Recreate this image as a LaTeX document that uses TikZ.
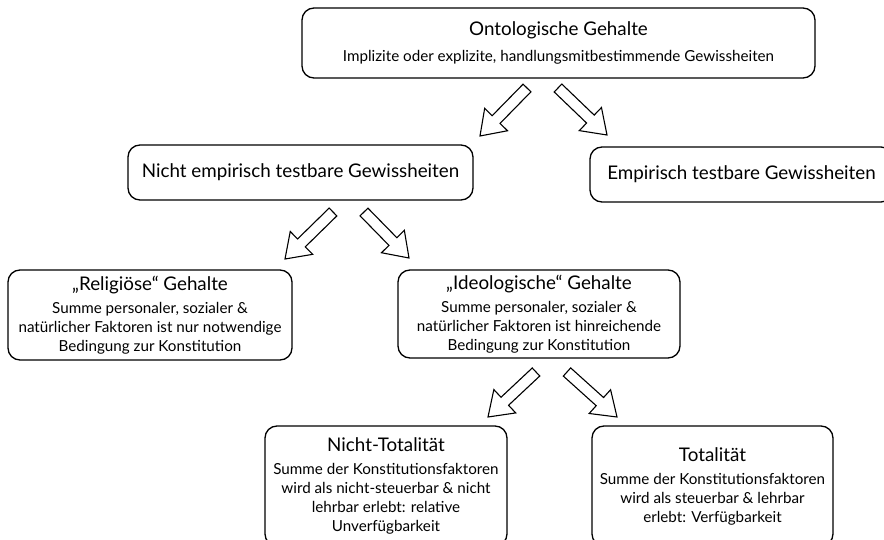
\documentclass[tikz,border=0pt]{standalone}
\usepackage{fontspec}
\setmainfont{Lato}
\usetikzlibrary{calc}
\newcommand\ttlfont{\fontsize{18.8}{22}\selectfont}
\tikzset{
  box/.style={draw=black, line width=1.3pt, rounded corners=12pt, fill=white, align=center, inner sep=0pt,
    font=\fontsize{15.2}{19}\selectfont},
  ttl/.style={font=\ttlfont},
  arrowshape/.style={draw=black, line width=1.1pt, fill=white, line join=miter}
}
\newcommand\blockarr[2]{%
  \draw[arrowshape] let \p1=(#1), \p2=(#2), \n1={atan2(\y2-\y1,\x2-\x1)}, \n2={veclen(\x2-\x1,\y2-\y1)} in
  ($(\p1)+(\n1+90:5.5)$) -- ($(\p1)+(\n1:\n2-23)+(\n1+90:5.5)$) -- ($(\p1)+(\n1:\n2-23)+(\n1+90:16)$) -- (\p2)
  -- ($(\p1)+(\n1:\n2-23)+(\n1-90:16)$) -- ($(\p1)+(\n1:\n2-23)+(\n1-90:5.5)$) -- ($(\p1)+(\n1-90:5.5)$) -- cycle;}
\begin{document}
\begin{tikzpicture}[x=1pt,y=1pt]
\useasboundingbox (0,0) rectangle (884,-540);
\clip (0,0) rectangle (884,-540);

\node[box, minimum width=513pt, minimum height=70pt] (top) at (558.5,-43)
  {{\ttlfont Ontologische Gehalte}\\[7pt]Implizite oder explizite, handlungsmitbestimmende Gewissheiten};

\node[box, ttl, minimum width=345pt, minimum height=55pt] (nemp) at (300.5,-172.5) {Nicht empirisch testbare Gewissheiten};
\node[box, ttl, minimum width=303pt, minimum height=55pt] (emp) at (741.5,-174.5) {Empirisch testbare Gewissheiten};

\node[box, minimum width=284pt, minimum height=90pt] (rel) at (150,-315)
  {{\ttlfont „Religiöse“ Gehalte}\\[4pt]
   Summe personaler, sozialer \&\\
   natürlicher Faktoren ist nur notwendige\\
   Bedingung zur Konstitution};

\node[box, minimum width=282pt, minimum height=88pt] (ideo) at (539,-314)
  {{\ttlfont „Ideologische“ Gehalte}\\[4pt]
   Summe personaler, sozialer \&\\
   natürlicher Faktoren ist hinreichende\\
   Bedingung zur Konstitution};

\node[box, minimum width=242pt, minimum height=120pt] (ntot) at (386,-486)
  {{\ttlfont Nicht-Totalität}\\[4pt]
   Summe der Konstitutionsfaktoren\\
   wird als nicht-steuerbar \& nicht\\
   lehrbar erlebt: relative\\
   Unverfügbarkeit};

\node[box, minimum width=241pt, minimum height=120pt] (tot) at (712.5,-486)
  {{\ttlfont Totalität}\\[4pt]
   Summe der Konstitutionsfaktoren\\
   wird als steuerbar \& lehrbar\\
   erlebt: Verfügbarkeit};

\coordinate (a1s) at (527,-88);  \coordinate (a1e) at (480,-136);
\coordinate (a2s) at (558,-88);  \coordinate (a2e) at (607,-135);
\coordinate (a3s) at (333,-212); \coordinate (a3e) at (285,-259);
\coordinate (a4s) at (364,-212); \coordinate (a4e) at (409,-258);
\coordinate (a5s) at (536,-372); \coordinate (a5e) at (488,-417);
\coordinate (a6s) at (567,-372); \coordinate (a6e) at (617,-417);
\blockarr{a1s}{a1e}
\blockarr{a2s}{a2e}
\blockarr{a3s}{a3e}
\blockarr{a4s}{a4e}
\blockarr{a5s}{a5e}
\blockarr{a6s}{a6e}
\end{tikzpicture}
\end{document}
